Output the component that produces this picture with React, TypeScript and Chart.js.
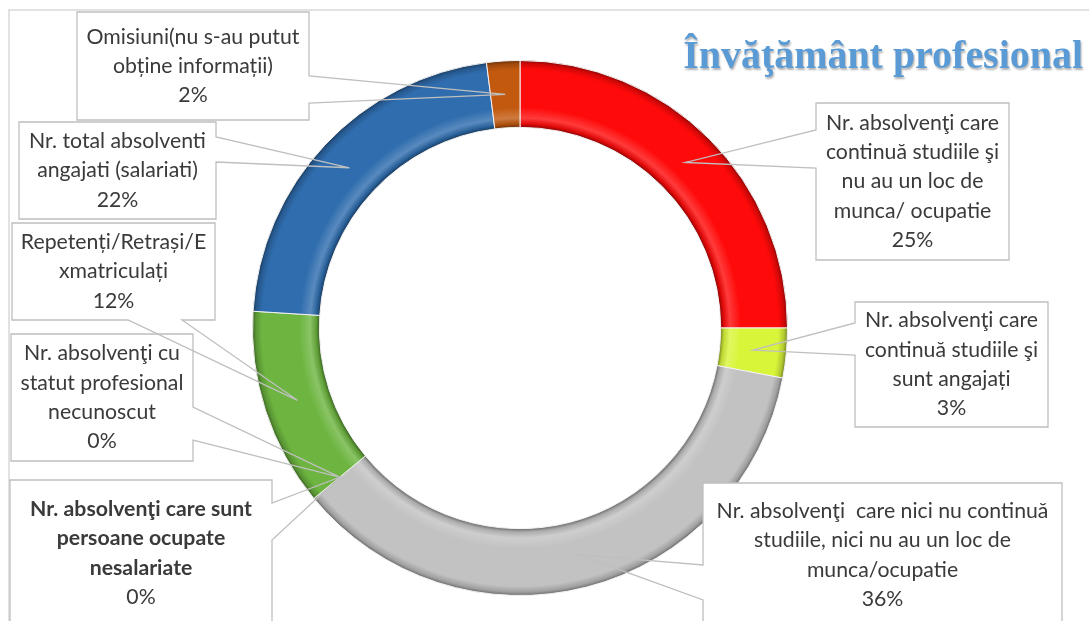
import React, { useEffect, useRef } from 'react';
import { Chart, registerables } from 'chart.js';

Chart.register(...registerables);

// ---- data ----
const categories = [
  'Nr. absolvenţi care continuă studiile şi nu au un loc de munca/ ocupatie',
  'Nr. absolvenţi care continuă studiile şi sunt angajați',
  'Nr. absolvenţi  care nici nu continuă studiile, nici nu au un loc de munca/ocupatie',
  'Nr. absolvenţi care sunt persoane ocupate nesalariate',
  'Nr. absolvenţi cu statut profesional necunoscut',
  'Repetenți/Retrași/Exmatriculați',
  'Nr. total absolventi angajati (salariati)',
  'Omisiuni(nu s-au putut obține informații)',
];
const values = [25, 3, 36, 0, 0, 12, 22, 2];
const sliceColors = ['#FF0A0A', '#D9F53A', '#C2C2C2', '#A5A5A5', '#8C8C8C', '#6DB540', '#2F6DAE', '#C2590F'];

// label text as wrapped in the picture (the percent line is added from values)
const labelLines = [
  ['Nr. absolvenţi care', 'continuă studiile şi', 'nu au un loc de', 'munca/ ocupatie'],
  ['Nr. absolvenţi care', 'continuă studiile şi', 'sunt angajați'],
  ['Nr. absolvenţi  care nici nu continuă', 'studiile, nici nu au un loc de', 'munca/ocupatie'],
  ['Nr. absolvenţi care sunt', 'persoane ocupate', 'nesalariate'],
  ['Nr. absolvenţi cu', 'statut profesional', 'necunoscut'],
  ['Repetenți/Retrași/E', 'xmatriculați'],
  ['Nr. total absolventi', 'angajati (salariati)'],
  ['Omisiuni(nu s-au putut', 'obține informații)'],
];
const labelBold = [false, false, false, true, false, false, false, false];
const titleText = 'Învăţământ profesional';

// ---- callout layout (label boxes, not marks) ----
type Box = { x: number; y: number; w: number; h: number; side: 'left' | 'right' | 'bottom'; b0: number; b1: number };
const boxes: Box[] = [
  { x: 816, y: 103, w: 193, h: 157, side: 'left', b0: 130, b1: 168 },
  { x: 855, y: 302, w: 193, h: 125, side: 'left', b0: 323, b1: 355 },
  { x: 703, y: 483, w: 359, h: 144, side: 'left', b0: 565, b1: 600 },
  { x: 10, y: 480, w: 262, h: 146, side: 'right', b0: 503, b1: 540 },
  { x: 11, y: 334, w: 182, h: 127, side: 'right', b0: 407, b1: 440 },
  { x: 12, y: 223, w: 203, h: 97, side: 'bottom', b0: 128, b1: 182 },
  { x: 19, y: 122, w: 197, h: 97, side: 'right', b0: 137, b1: 162 },
  { x: 77, y: 12, w: 232, h: 108, side: 'right', b0: 76, b1: 103 },
];

function shade(hex: string, amt: number): string {
  const n = parseInt(hex.slice(1), 16);
  let r = (n >> 16) & 255, g = (n >> 8) & 255, b = n & 255;
  const f = (c: number) => Math.round(amt < 0 ? c * (1 + amt) : c + (255 - c) * amt);
  r = f(r); g = f(g); b = f(b);
  return `rgb(${r},${g},${b})`;
}

const LABEL_FONT = 'Lato, "Noto Sans", sans-serif';
const TITLE_FONT = '"Liberation Serif", "DejaVu Serif", serif';
let labelSize = 0;
let titleSize = 0;

const calloutPlugin = {
  id: 'callouts',
  afterDraw(chart: any) {
    const ctx: CanvasRenderingContext2D = chart.ctx;
    const meta = chart.getDatasetMeta(0);
    ctx.save();

    // chart area frame
    ctx.strokeStyle = '#D9D9D9';
    ctx.lineWidth = 1.5;
    ctx.strokeRect(9, 10, 1300, 900);

    // title
    if (!titleSize) {
      ctx.font = `bold 40px ${TITLE_FONT}`;
      titleSize = (40 * 400) / ctx.measureText(titleText).width;
    }
    ctx.font = `bold ${titleSize}px ${TITLE_FONT}`;
    ctx.fillStyle = '#5B9BD5';
    ctx.textAlign = 'right';
    ctx.textBaseline = 'alphabetic';
    ctx.shadowColor = 'rgba(0,0,0,0.3)';
    ctx.shadowBlur = 2;
    ctx.shadowOffsetX = 1;
    ctx.shadowOffsetY = 1.5;
    ctx.fillText(titleText, 1083, 68);
    ctx.shadowColor = 'transparent';
    ctx.shadowBlur = 0;
    ctx.shadowOffsetX = 0;
    ctx.shadowOffsetY = 0;

    if (!labelSize) {
      ctx.font = `20px ${LABEL_FONT}`;
      labelSize = (20 * 213) / ctx.measureText('Omisiuni(nu s-au putut').width;
    }

    // fills
    ctx.fillStyle = '#FFFFFF';
    boxes.forEach((b) => ctx.fillRect(b.x, b.y, b.w, b.h));

    // outlines with wedge
    ctx.strokeStyle = '#BFBFBF';
    ctx.lineWidth = 1.3;
    boxes.forEach((b, i) => {
      const el = meta.data[i];
      if (!el) return;
      const p = el.tooltipPosition(true);
      const { x, y, w, h } = b;
      ctx.beginPath();
      if (b.side === 'left') {
        ctx.moveTo(x, b.b1);
        ctx.lineTo(x, y + h);
        ctx.lineTo(x + w, y + h);
        ctx.lineTo(x + w, y);
        ctx.lineTo(x, y);
        ctx.lineTo(x, b.b0);
      } else if (b.side === 'right') {
        ctx.moveTo(x + w, b.b0);
        ctx.lineTo(x + w, y);
        ctx.lineTo(x, y);
        ctx.lineTo(x, y + h);
        ctx.lineTo(x + w, y + h);
        ctx.lineTo(x + w, b.b1);
      } else {
        ctx.moveTo(b.b0, y + h);
        ctx.lineTo(x, y + h);
        ctx.lineTo(x, y);
        ctx.lineTo(x + w, y);
        ctx.lineTo(x + w, y + h);
        ctx.lineTo(b.b1, y + h);
      }
      ctx.lineTo(p.x, p.y);
      ctx.closePath();
      ctx.stroke();
    });

    // texts
    ctx.fillStyle = '#3A3A3A';
    ctx.textAlign = 'center';
    ctx.textBaseline = 'middle';
    const lh = 29.3;
    boxes.forEach((b, i) => {
      const lines = [...labelLines[i], `${values[i]}%`];
      const cx = b.x + b.w / 2;
      const cy = b.y + b.h / 2;
      const y0 = cy - ((lines.length - 1) * lh) / 2;
      lines.forEach((t, k) => {
        const bold = labelBold[i] && k < lines.length - 1;
        ctx.font = `${bold ? 'bold ' : ''}${labelSize}px ${LABEL_FONT}`;
        ctx.fillText(t, cx, y0 + k * lh);
      });
    });

    ctx.restore();
  },
};

function sliceFill(context: any) {
  const i = context.dataIndex;
  const base = sliceColors[i];
  const chart = context.chart;
  const area = chart.chartArea;
  const meta = chart.getDatasetMeta(0);
  const ctrl: any = meta && meta.controller;
  if (!area || !ctrl || !ctrl.outerRadius) return base;
  const cx = (area.left + area.right) / 2;
  const cy = (area.top + area.bottom) / 2;
  const ro = ctrl.outerRadius;
  const ri = ctrl.innerRadius;
  const g = chart.ctx.createRadialGradient(cx, cy, ri, cx, cy, ro);
  g.addColorStop(0, shade(base, -0.45));
  g.addColorStop(0.05, shade(base, -0.12));
  g.addColorStop(0.14, shade(base, 0.2));
  g.addColorStop(0.3, base);
  g.addColorStop(0.86, base);
  g.addColorStop(0.95, shade(base, -0.18));
  g.addColorStop(1, shade(base, -0.45));
  return g;
}

export default function App() {
  const ref = useRef<HTMLCanvasElement | null>(null);
  useEffect(() => {
    if (!ref.current) return;
    const chart = new Chart(ref.current, {
      type: 'doughnut',
      data: {
        labels: categories,
        datasets: [
          {
            data: values,
            backgroundColor: sliceFill as any,
            borderColor: '#F2F2F2',
            borderWidth: 1,
          },
        ],
      },
      options: {
        responsive: false,
        animation: false,
        cutout: '75%',
        layout: { padding: { left: 252, top: 60, right: 301, bottom: 25 } },
        plugins: {
          legend: { display: false },
          tooltip: { enabled: false },
          title: { display: false },
        },
      },
      plugins: [calloutPlugin],
    });
    return () => chart.destroy();
  }, []);
  return (
    <div style={{ position: 'fixed', left: 0, top: 0, width: 1089, height: 621, background: '#fff' }}>
      <canvas ref={ref} width={1089} height={621} style={{ display: 'block', width: 1089, height: 621 }} />
    </div>
  );
}
